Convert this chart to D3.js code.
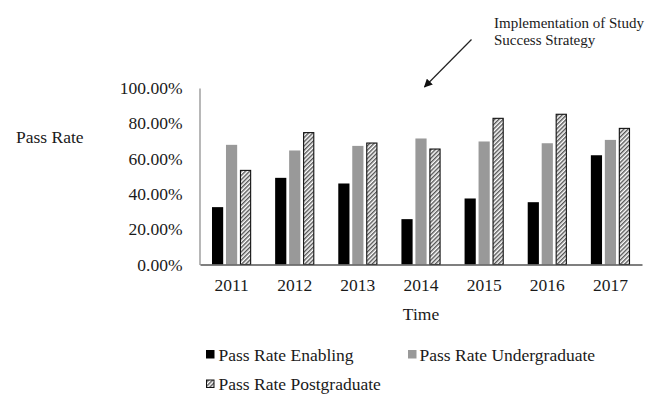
<!DOCTYPE html>
<html>
<head>
<meta charset="utf-8">
<script src="https://cdn.jsdelivr.net/npm/d3@7"></script>
<style>
  html, body { margin: 0; padding: 0; background: #fff; }
  svg { display: block; font-family: "Liberation Serif", "Times New Roman", serif; }
</style>
</head>
<body>
<svg id="chart" width="653" height="395"></svg>
<script>
// Pass rates by year for each student cohort
const years = ["2011", "2012", "2013", "2014", "2015", "2016", "2017"];
const seriesNames = ["Pass Rate Enabling", "Pass Rate Undergraduate", "Pass Rate Postgraduate"];
const enabling =      [0.325, 0.491, 0.459, 0.257, 0.374, 0.353, 0.619];
const undergraduate = [0.678, 0.646, 0.672, 0.714, 0.697, 0.687, 0.706];
const postgraduate =  [0.536, 0.750, 0.691, 0.657, 0.831, 0.854, 0.774];
const yTicks = [0, 0.2, 0.4, 0.6, 0.8, 1.0];

const seriesValues = [enabling, undergraduate, postgraduate];
const FONT = 17.5;
const INK = "#1a1a1a";

const svg = d3.select("#chart");

// Diagonal hatch for the postgraduate bars
const defs = svg.append("defs");
const pat = defs.append("pattern")
  .attr("id", "hatch")
  .attr("patternUnits", "userSpaceOnUse")
  .attr("width", 3).attr("height", 3)
  .attr("patternTransform", "rotate(45)");
pat.append("rect").attr("width", 3).attr("height", 3).attr("fill", "#fff");
pat.append("line").attr("x1", 0.75).attr("y1", 0).attr("x2", 0.75).attr("y2", 3)
  .attr("stroke", "#444").attr("stroke-width", 1.3);

const x0 = d3.scaleBand().domain(years).range([200, 642])
  .paddingInner(0.38).paddingOuter(0.19);
const x1 = d3.scaleBand().domain(seriesNames).range([0, x0.bandwidth()])
  .paddingInner(0.2);
const y = d3.scaleLinear().domain([0, 1]).range([264.5, 88]);

const fills = ["#000", "#999", "url(#hatch)"];
const strokes = ["none", "none", "#111"];

// Bars
const groups = svg.append("g").selectAll("g")
  .data(years)
  .join("g")
  .attr("transform", d => `translate(${x0(d)},0)`);

groups.selectAll("rect")
  .data((yr, i) => seriesNames.map((s, k) => ({ s, k, v: seriesValues[k][i] })))
  .join("rect")
  .attr("x", d => x1(d.s) + (d.k === 2 ? 0.5 : 0))
  .attr("width", d => x1.bandwidth() - (d.k === 2 ? 1 : 0))
  .attr("y", d => y(d.v) + (d.k === 2 ? 0.5 : 0))
  .attr("height", d => y(0) - y(d.v) - (d.k === 2 ? 0.5 : 0))
  .attr("fill", d => fills[d.k])
  .attr("stroke", d => strokes[d.k])
  .attr("stroke-width", 1.1);

// Y axis
const yAxis = d3.axisLeft(y).tickValues(yTicks).tickSize(0).tickPadding(17)
  .tickFormat(d => (d * 100).toFixed(2) + "%");
const gy = svg.append("g").attr("transform", "translate(199.5,0)").call(yAxis);
gy.select(".domain").attr("stroke", "#888").attr("stroke-width", 1.2);
gy.selectAll("text").attr("font-size", FONT).attr("fill", INK)
  .attr("font-family", "Liberation Serif, serif");

// X axis
const xAxis = d3.axisBottom(x0).tickSize(0).tickPadding(14.5);
const gx = svg.append("g").attr("transform", "translate(0,264.5)").call(xAxis);
gx.select(".domain").attr("stroke", "#555").attr("stroke-width", 1.3);
gx.selectAll("text").attr("font-size", FONT).attr("fill", INK)
  .attr("font-family", "Liberation Serif, serif");

// Axis titles
svg.append("text").attr("x", 16).attr("y", 142.5)
  .attr("font-size", FONT).attr("fill", INK).text("Pass Rate");
svg.append("text").attr("x", 421).attr("y", 320).attr("text-anchor", "middle")
  .attr("font-size", FONT).attr("fill", INK).text("Time");

// Legend
const legendPos = [[206, 360.5], [408, 360.5], [206, 390]];
const legend = svg.append("g").selectAll("g")
  .data(seriesNames)
  .join("g")
  .attr("transform", (d, i) => `translate(${legendPos[i][0]},${legendPos[i][1]})`);
legend.append("rect")
  .attr("x", (d, i) => i === 2 ? 0.5 : 0)
  .attr("y", (d, i) => i === 2 ? -10 : -10.5)
  .attr("width", (d, i) => i === 2 ? 7.5 : 8.5)
  .attr("height", (d, i) => i === 2 ? 7.5 : 8.5)
  .attr("fill", (d, i) => fills[i])
  .attr("stroke", (d, i) => strokes[i]);
legend.append("text").attr("x", (d, i) => i === 1 ? 11.5 : 12.5).attr("y", 0)
  .attr("font-size", FONT).attr("fill", INK).text(d => d);

// Annotation
const ann = svg.append("text").attr("x", 494).attr("y", 28)
  .attr("font-size", 15).attr("fill", INK);
ann.append("tspan").attr("x", 494).text("Implementation of Study");
ann.append("tspan").attr("x", 494).attr("dy", 17).text("Success Strategy");

defs.append("marker").attr("id", "arrow")
  .attr("viewBox", "0 0 10 10").attr("refX", 9).attr("refY", 5)
  .attr("markerWidth", 7).attr("markerHeight", 7)
  .attr("orient", "auto")
  .append("path").attr("d", "M0,0 L10,5 L0,10 z").attr("fill", "#111");
svg.append("line").attr("x1", 471.5).attr("y1", 39.5).attr("x2", 424.5).attr("y2", 87)
  .attr("stroke", "#222").attr("stroke-width", 1.2).attr("marker-end", "url(#arrow)");
</script>
</body>
</html>
